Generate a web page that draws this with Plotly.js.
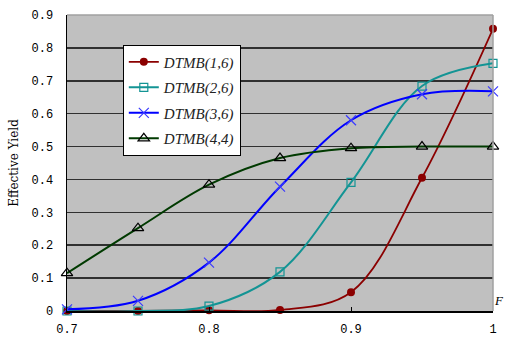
<!DOCTYPE html>
<html>
<head>
<meta charset="utf-8">
<script src="https://cdn.plot.ly/plotly-3.0.1.min.js"></script>
<style>html,body{margin:0;padding:0;background:#fff;}#chart{width:505px;height:337px;}</style>
</head>
<body>
<div id="chart"></div>
<script>
const xValues = [0.70, 0.75, 0.80, 0.85, 0.90, 0.95, 1.00];
const dtmb16 = [0.000, 0.000, 0.002, 0.003, 0.057, 0.405, 0.858];
const dtmb26 = [0.000, 0.000, 0.015, 0.119, 0.391, 0.684, 0.753];
const dtmb36 = [0.005, 0.031, 0.147, 0.378, 0.580, 0.659, 0.668];
const dtmb44 = [0.115, 0.252, 0.384, 0.465, 0.495, 0.500, 0.500];
const seriesNames = ["DTMB(1,6)", "DTMB(2,6)", "DTMB(3,6)", "DTMB(4,4)"];
const xTickVals = [0.7, 0.8, 0.9, 1.0];
const xTickText = ["0.7", "0.8", "0.9", "1"];
const yTickVals = [0, 0.1, 0.2, 0.3, 0.4, 0.5, 0.6, 0.7, 0.8, 0.9];
const yTickText = ["0", "0.1", "0.2", "0.3", "0.4", "0.5", "0.6", "0.7", "0.8", "0.9"];

const common = {type: 'scatter', mode: 'lines+markers', x: xValues, cliponaxis: false};
const traces = [
  Object.assign({}, common, {name: seriesNames[0], y: dtmb16, legendgroup: 'a',
    line: {color: '#8b0000', width: 1.8, shape: 'spline', smoothing: 1},
    marker: {symbol: 'circle', size: 8, color: '#8b0000'}}),
  Object.assign({}, common, {name: seriesNames[1], y: dtmb26, legendgroup: 'b',
    line: {color: '#139494', width: 2, shape: 'spline', smoothing: 1},
    marker: {symbol: 'square-open', size: 8, color: '#139494', line: {width: 1.2, color: '#139494'}}}),
  Object.assign({}, common, {name: seriesNames[2], y: dtmb36, legendgroup: 'c',
    line: {color: '#0000ff', width: 2, shape: 'spline', smoothing: 1},
    marker: {symbol: 'x-thin-open', size: 10, color: '#3a3aff', line: {width: 1.2, color: '#3a3aff'}}}),
  Object.assign({}, common, {name: seriesNames[3], y: dtmb44, legendgroup: 'd',
    line: {color: '#003a00', width: 2, shape: 'spline', smoothing: 1},
    marker: {symbol: 'triangle-up-open', size: 10, color: '#000000', line: {width: 1.2, color: '#000000'}}})
];

const layout = {
  width: 505, height: 337,
  margin: {l: 67, r: 12, t: 15, b: 26, pad: 0},
  paper_bgcolor: '#ffffff',
  plot_bgcolor: '#c0c0c0',
  showlegend: true,
  legend: {
    x: 0.131, y: 0.90, xanchor: 'left', yanchor: 'top',
    bgcolor: '#ffffff', bordercolor: '#000000', borderwidth: 1,
    font: {family: 'Liberation Serif', size: 15, color: '#222', style: 'italic'},
    traceorder: 'grouped', tracegroupgap: 3, itemwidth: 30
  },
  xaxis: {
    range: [0.7, 1.0], tickvals: xTickVals, ticktext: xTickText,
    showgrid: false, zeroline: false,
    showline: true, linecolor: '#000000', linewidth: 1.5,
    ticks: 'inside', ticklen: 4, tickcolor: '#000000',
    tickfont: {family: 'Liberation Mono', size: 12, color: '#000'},
    ticklabelstandoff: 6
  },
  yaxis: {
    range: [0, 0.9], tickvals: yTickVals, ticktext: yTickText,
    showgrid: true, gridcolor: '#303030', gridwidth: 1.5,
    zeroline: false, showline: true, linecolor: '#000000', linewidth: 1.5,
    ticks: '', tickfont: {family: 'Liberation Mono', size: 12, color: '#000'},
    ticklabelstandoff: 10,
    title: {text: 'Effective Yield', font: {family: 'DejaVu Serif', size: 12, color: '#000'}, standoff: 10}
  },
  shapes: [
    {type: 'line', xref: 'paper', yref: 'paper', x0: 0, x1: 1, y0: 1, y1: 1, line: {color: '#a0a0a0', width: 1.5}, layer: 'above'},
    {type: 'line', xref: 'paper', yref: 'paper', x0: 1, x1: 1, y0: 0, y1: 1, line: {color: '#a0a0a0', width: 1.5}, layer: 'above'}
  ],
  annotations: [
    {text: 'F', xref: 'paper', yref: 'paper', x: 1.0, y: 0.035, xanchor: 'left', yanchor: 'middle', showarrow: false, xshift: -1,
     font: {family: 'Liberation Serif', size: 13, color: '#000', style: 'italic'}}
  ]
};

Plotly.newPlot('chart', traces, layout, {displayModeBar: false, staticPlot: true});
</script>
</body>
</html>
